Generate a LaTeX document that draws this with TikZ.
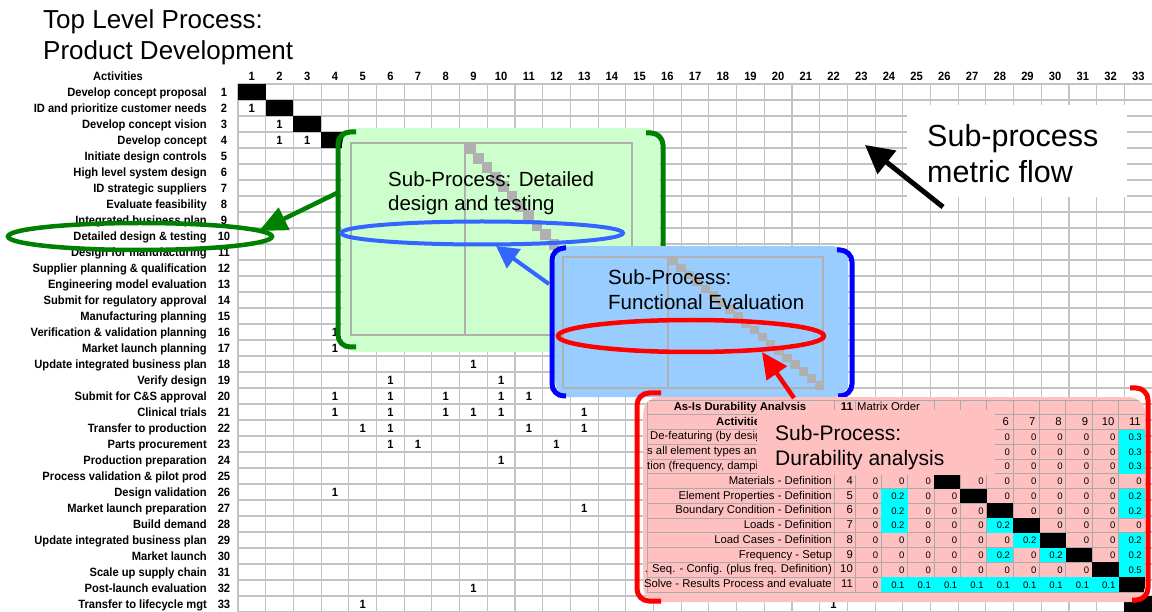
\documentclass[tikz,border=0pt]{standalone}
\usepackage{fontspec}
\setmainfont{Liberation Sans}
\newfontfamily\actfont{Liberation Sans}[FakeStretch=0.93]
\usetikzlibrary{arrows.meta,shapes.geometric}
\definecolor{gridgray}{RGB}{195,195,195}
\definecolor{boxgreen}{RGB}{204,255,204}
\definecolor{brgreen}{RGB}{0,128,0}
\definecolor{boxblue}{RGB}{153,204,255}
\definecolor{brblue}{RGB}{0,0,255}
\definecolor{ellblue}{RGB}{51,102,255}
\definecolor{boxpink}{RGB}{255,192,192}
\definecolor{tblgray}{RGB}{170,170,170}
\definecolor{subgray}{RGB}{176,176,176}
\definecolor{cyancell}{RGB}{0,255,255}
% codes: 8 = hidden (under overlay), 9 = black diagonal, 0 = zero, n = cyan 0.n
\newcommand\durrow[2]{%
  \foreach \v [count=\c] in {#2} {%
    \ifnum\v=8 \relax
    \else\ifnum\v=9
      \fill[black] ({855+26.36*(\c-1)},{400+14.77*(#1+1)}) rectangle ++(26.36,14.77);
    \else\ifnum\v=0
      \node[val] (v#1-\c) at ({852+26.36*\c},{400+14.77*(#1+1.5)}) {0};
    \else
      \fill[cyancell] ({855+26.36*(\c-1)},{400+14.77*(#1+1)}) rectangle ++(26.36,14.77);
      \node[val] (v#1-\c) at ({852+26.36*\c},{400+14.77*(#1+1.5)}) {0.\v};
    \fi\fi\fi
  }%
}
\begin{document}
\begin{tikzpicture}[x=1pt,y=-1pt,
  gridline/.style={draw=gridgray, line width=1.1pt},
  act/.style={inner sep=0, font={\actfont\bfseries\fontsize{12}{14}\selectfont}, text height=8.6pt, text depth=2.4pt},
  lab/.style={act, anchor=east},
  one/.style={act, anchor=center},
  big/.style={inner sep=0, anchor=base west, font={\fontsize{20.5}{24}\selectfont}},
  tbl/.style={inner sep=0, font={\fontsize{11.3}{13}\selectfont}, text height=8.2pt, text depth=2.2pt},
  tblb/.style={tbl, font={\bfseries\fontsize{11.3}{13}\selectfont}},
  val/.style={inner sep=0, anchor=east, font={\fontsize{9.5}{11}\selectfont}, text height=6.9pt, text depth=0pt},
  subbox/.style={anchor=north west, inner sep=0, rounded corners=16pt},
  bracket/.style={line width=5pt, rounded corners=12pt},
  subgrid/.style={draw=subgray, line width=1.6pt},
]
\useasboundingbox (0,0) rectangle (1152,612);
\fill[white] (0,0) rectangle (1152,612);

% title
\node[anchor=base west, inner sep=0, font={\fontsize{26}{31}\selectfont}] (title1) at (43,29) {Top Level Process:};
\node[anchor=base west, inner sep=0, font={\fontsize{26}{31}\selectfont}] (title2) at (43,60) {Product Development};

% grid
\foreach \k in {0,...,33} {
  \draw[gridline] (238,{84+16*\k}) -- (1152,{84+16*\k});
  \draw[gridline] ({238+27.7*\k},84) -- ({238+27.7*\k},612);
}
\foreach \i in {1,...,33}
  \fill[black] ({238+27.7*(\i-1)},{84+16*(\i-1)}) rectangle ++(27.7,16);

% headers
\node[act, anchor=center] (acthdr) at (118,77.5) {Activities};
\foreach \i in {1,...,33}
  \node[one] (ch\i) at ({251.85+27.7*(\i-1)},77.5) {\i};

% activity labels
\foreach \i/\t in {1/Develop concept proposal, 2/ID and prioritize customer needs,
  3/Develop concept vision, 4/Develop concept, 5/Initiate design controls,
  6/High level system design, 7/ID strategic suppliers, 8/Evaluate feasibility,
  9/Integrated business plan, 10/Detailed design \& testing, 11/Design for manufacturing,
  12/Supplier planning \& qualification, 13/Engineering model evaluation,
  14/Submit for regulatory approval, 15/Manufacturing planning,
  16/Verification \& validation planning, 17/Market launch planning,
  18/Update integrated business plan, 19/Verify design, 20/Submit for C\&S approval,
  21/Clinical trials, 22/Transfer to production, 23/Parts procurement,
  24/Production preparation, 25/Process validation \& pilot prod, 26/Design validation,
  27/Market launch preparation, 28/Build demand, 29/Update integrated business plan,
  30/Market launch, 31/Scale up supply chain, 32/Post-launch evaluation,
  33/Transfer to lifecycle mgt} {
  \node[lab] (lab\i) at (207,{93.5+16*(\i-1)}) {\t};
  \node[one] (rn\i) at (224,{93.5+16*(\i-1)}) {\i};
}

% matrix entries
\foreach \r/\c [count=\n] in {2/1, 3/2, 4/2, 4/3, 16/4, 17/4, 17/6, 17/8, 17/9,
  18/9, 19/6, 19/10, 20/4, 20/6, 20/8, 20/10, 20/11, 21/4, 21/6, 21/8, 21/9, 21/10, 21/13,
  22/5, 22/6, 22/11, 22/13, 23/6, 23/7, 23/12, 24/10, 26/4, 27/13, 32/9, 33/5, 33/22}
  \node[one] (e\n) at ({251.85+27.7*(\c-1)},{93.5+16*(\r-1)}) {1};

% ---------- green sub-process ----------
\node[subbox, fill=boxgreen, minimum width=318pt, minimum height=224pt] (gbox) at (342,128) {};
\draw[subgrid] (351,143) rectangle (632,335);
\draw[subgrid] (465,143) -- (465,335);
\foreach \k in {0,...,19}
  \fill[subgray] ({465+8.35*\k},{143+9.6*\k}) rectangle ++(10.5,11);
\node[big] (gt1) at (388,187) {Sub-Process: Detailed};
\node[big] (gt2) at (388,211) {design and testing};
\draw[bracket, brgreen] (356,132) -- (338,132) -- (338,347) -- (356,347);
\draw[bracket, brgreen] (646,133) -- (663,133) -- (663,347) -- (646,347);

\node[ellipse, draw=brgreen, line width=4.5pt, minimum width=264pt, minimum height=27pt, inner sep=0] (gell) at (140,236.5) {};
\coordinate (gtail) at (337,193);
\coordinate (gtip) at (259,231);
\draw[brgreen, line width=4.5pt, -{Triangle[length=28pt,width=24pt]}] (gtail) -- (gtip);

\node[ellipse, draw=ellblue, line width=4pt, minimum width=282pt, minimum height=23pt, inner sep=0] (bell) at (482,233) {};

% ---------- blue sub-process ----------
\node[subbox, fill=boxblue, minimum width=293pt, minimum height=151pt] (bbox) at (555,246) {};
\draw[subgrid] (563,257) rectangle (823,388);
\draw[subgrid] (668,257) -- (668,388);
\foreach \k in {0,...,18}
  \fill[subgray] ({668+8.16*\k},{257+6.9*\k}) rectangle ++(9.5,8.5);
\node[big] (bt1) at (608,285) {Sub-Process:};
\node[big] (bt2) at (608,310) {Functional Evaluation};
\draw[bracket, brblue] (566,248) -- (552,248) -- (552,396) -- (566,396);
\draw[bracket, brblue] (837,250) -- (852,250) -- (852,396) -- (838,396);
\coordinate (btail) at (549,284);
\coordinate (btip) at (496,246);
\draw[ellblue, line width=4pt, -{Triangle[length=22pt,width=23pt]}] (btail) -- (btip);

\node[ellipse, draw=red, line width=4.5pt, minimum width=266pt, minimum height=32pt, inner sep=0] (rell) at (691,336) {};

% ---------- durability sub-process ----------
\node[subbox, fill=boxpink, minimum width=502pt, minimum height=205pt] (pbox) at (643,397) {};
\begin{scope}
  \clip[rounded corners=16pt] (643,397) rectangle (1145,602);
  \clip (644,397) rectangle (1145,602);
  \foreach \r in {0,...,13}
    \draw[tblgray, line width=0.9pt] (647,{400+14.77*\r}) -- (1145,{400+14.77*\r});
  \foreach \x in {647,834,855}
    \draw[tblgray, line width=0.9pt] (\x,400) -- (\x,592);
  \foreach \k in {1,2}
    \draw[tblgray, line width=0.9pt] ({855+26.36*\k},414.77) -- ({855+26.36*\k},592);
  \foreach \k in {3,...,11}
    \draw[tblgray, line width=0.9pt] ({855+26.36*\k},400) -- ({855+26.36*\k},592);
  \durrow{1}{8,8,8,8,8,0,0,0,0,0,3}
  \durrow{2}{8,8,8,8,8,0,0,0,0,0,3}
  \durrow{3}{8,8,8,8,8,0,0,0,0,0,3}
  \durrow{4}{0,0,0,9,0,0,0,0,0,0,0}
  \durrow{5}{0,2,0,0,9,0,0,0,0,0,2}
  \durrow{6}{0,2,0,0,0,9,0,0,0,0,2}
  \durrow{7}{0,2,0,0,0,2,9,0,0,0,0}
  \durrow{8}{0,0,0,0,0,0,2,9,0,0,2}
  \durrow{9}{0,0,0,0,0,2,0,2,9,0,2}
  \durrow{10}{0,0,0,0,0,0,0,0,0,9,5}
  \durrow{11}{0,1,1,1,1,1,1,1,1,1,9}
  \node[tblb, anchor=center] (dh1) at (740,407.4) {As-Is Durability Analysis};
  \node[tblb, anchor=east] (dh2) at (853,407.4) {11};
  \node[tbl, anchor=west] (dh3) at (857,407.4) {Matrix Order};
  \node[tblb, anchor=west] (dh4) at (716,422.2) {Activitie};
  \foreach \c in {6,...,11}
    \node[tbl, anchor=east] (dc\c) at ({851+26.36*\c},422.2) {\c};
  \node[tbl, anchor=west] (dl1) at (650,{400+14.77*2.5}) {De-featuring (by desig};
  \node[tbl, anchor=west] (dl2) at (647,{400+14.77*3.5}) {s all element types an};
  \node[tbl, anchor=west] (dl3) at (647,{400+14.77*4.5}) {tion (frequency, dampi};
  \foreach \r/\t in {4/Materials - Definition, 5/Element Properties - Definition,
    6/Boundary Condition - Definition, 7/Loads - Definition, 8/Load Cases - Definition,
    9/Frequency - Setup, 10/l. Seq. - Config. (plus freq. Definition),
    11/Solve - Results Process and evaluate}
    \node[tbl, anchor=east] (dl\r) at (832,{400+14.77*(\r+1.5)}) {\t};
  \foreach \r in {4,...,11}
    \node[tbl, anchor=east] (dn\r) at (853,{400+14.77*(\r+1.5)}) {\r};
\end{scope}
\node[anchor=north west, inner sep=0, fill=boxpink, minimum width=238pt, minimum height=65pt] (ovl) at (757,410) {};
\node[big, font={\fontsize{21}{25}\selectfont}] (pt1) at (775,440) {Sub-Process:};
\node[big, font={\fontsize{21}{25}\selectfont}] (pt2) at (775,465) {Durability analysis};
\draw[bracket, red] (661,393) -- (637,393) -- (637,601) -- (661,601);
\draw[bracket, red] (1130,388) -- (1148,388) -- (1148,600) -- (1132,600);
\coordinate (rtail) at (794,398);
\coordinate (rtip) at (762,352);
\draw[red, line width=4.5pt, -{Triangle[length=26pt,width=24pt]}] (rtail) -- (rtip);

% ---------- metric flow ----------
\node[anchor=north west, inner sep=0, fill=white, minimum width=220pt, minimum height=92pt] (mbox) at (907,105) {};
\node[anchor=base west, inner sep=0, font={\fontsize{30.5}{36}\selectfont}] (mt1) at (927,147) {Sub-process};
\node[anchor=base west, inner sep=0, font={\fontsize{30.5}{36}\selectfont}] (mt2) at (927,183) {metric flow};
\coordinate (mtail) at (943,207);
\coordinate (mtip) at (865,145);
\draw[line width=5pt, -{Triangle[length=28pt,width=29pt]}] (mtail) -- (mtip);
\end{tikzpicture}
\end{document}
